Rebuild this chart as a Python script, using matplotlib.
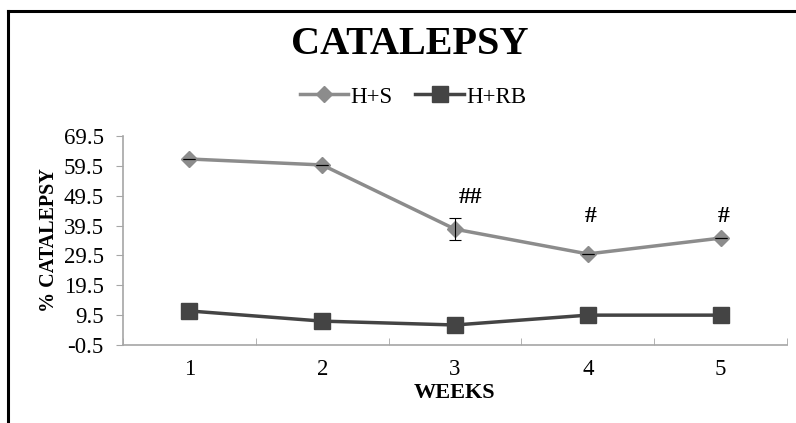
import matplotlib.pyplot as plt
from matplotlib.lines import Line2D

plt.rcParams['font.family'] = ['Liberation Serif', 'DejaVu Serif']

# data
weeks = [1, 2, 3, 4, 5]
hs_vals = [61.8, 59.8, 38.3, 30.0, 35.3]
hs_err = [0, 0, 3.7, 0, 0]
hrb_vals = [10.9, 7.5, 6.2, 9.5, 9.5]
marks = ['', '', '##', '#', '#']
mark_y = [0, 0, 49.0, 42.4, 42.4]
yticks = [-0.5, 9.5, 19.5, 29.5, 39.5, 49.5, 59.5, 69.5]

light = '#8c8c8c'
dark = '#444444'
axis_col = '#a6a6a6'

fig = plt.figure(figsize=(7.96, 4.23), dpi=100)
ax = fig.add_axes([123 / 796, 1 - 345 / 423, (787 - 123) / 796, (345 - 136) / 423])

ax.plot(weeks, hs_vals, color=light, lw=2.5, marker='D', ms=8, mec=light, mfc=light, zorder=3)
ax.errorbar(weeks, hs_vals, yerr=hs_err, fmt='none', ecolor='black', elinewidth=0.8, capsize=4, capthick=0.8, zorder=4)
ax.plot(weeks, hrb_vals, color=dark, lw=2.5, marker='s', ms=12, mec=dark, mfc=dark, zorder=3)

for x, y, m in zip(weeks, mark_y, marks):
    if m:
        ax.text(x + (0.12 if len(m) > 1 else 0.02), y, m, ha='center', va='center',
                fontsize=17, fontweight='bold')

ax.set_xlim(0.5, 5.5)
ax.set_ylim(-0.5, 69.5)
ax.set_yticks(yticks)
ax.set_yticklabels([str(t) for t in yticks], fontsize=16.5)
ax.set_xticks(weeks)
ax.set_xticklabels([str(w) for w in weeks], fontsize=16.5)
ax.set_xticks([0.5 + i for i in range(6)], minor=True)
ax.tick_params(axis='x', which='major', length=0, pad=10)
ax.tick_params(axis='x', which='minor', length=5, color=axis_col, direction='in')
ax.tick_params(axis='y', length=5, color=axis_col, direction='out', pad=9)
ax.spines['top'].set_visible(False)
ax.spines['right'].set_visible(False)
for s in ['left', 'bottom']:
    ax.spines[s].set_color(axis_col)
    ax.spines[s].set_linewidth(1.2)

ax.set_xlabel('WEEKS', fontsize=16, fontweight='bold', labelpad=2)
ax.set_ylabel('% CATALEPSY', fontsize=14.5, fontweight='bold', labelpad=3)

fig.text(410 / 796, 1 - 45 / 423, 'CATALEPSY', ha='center', va='center', fontsize=29, fontweight='bold')

handles = [
    Line2D([], [], color=light, lw=2.5, marker='D', ms=8, mfc=light, mec=light),
    Line2D([], [], color=dark, lw=2.5, marker='s', ms=11, mfc=dark, mec=dark),
]
fig.legend(handles, ['H+S', 'H+RB'], loc='center', bbox_to_anchor=(413 / 796, 1 - 97 / 423),
           ncol=2, frameon=False, fontsize=16.5, handlelength=2.1, handletextpad=0.1, columnspacing=1.0)

# outer frame (cut off at right and bottom like the source image)
fig.add_artist(Line2D([8 / 796, 8 / 796], [0, 1 - 11 / 423], color='black', lw=2.2, transform=fig.transFigure))
fig.add_artist(Line2D([8 / 796, 1], [1 - 11 / 423, 1 - 11 / 423], color='black', lw=2.2, transform=fig.transFigure))

fig.savefig('out.png', dpi=100)
